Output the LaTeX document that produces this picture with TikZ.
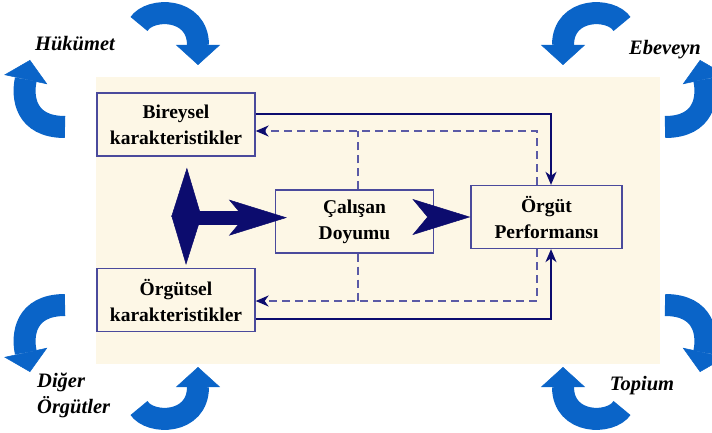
\documentclass[tikz,border=0pt]{standalone}
\usepackage{fontspec}
\setmainfont{Liberation Serif}
\usetikzlibrary{arrows.meta, positioning}

\definecolor{navy}{HTML}{0C0C6E}
\definecolor{frame}{HTML}{4A4A9C}
\definecolor{dashblue}{HTML}{5A5AA6}
\definecolor{cream}{HTML}{FDF7E6}
\definecolor{swirlblue}{HTML}{0A64C8}

\begin{document}
\begin{tikzpicture}[
        x=1pt, y=1pt,
        box/.style={draw=frame, line width=1.3pt, fill=cream, align=center,
            minimum width=158pt, minimum height=63pt, inner sep=2pt,
            font=\fontsize{19.5}{26}\selectfont\bfseries},
        tag/.style={font=\fontsize{20.5}{26}\selectfont\bfseries\itshape, inner sep=0pt},
        link/.style={draw=navy, line width=2pt, -{Stealth[length=13pt, width=11pt, inset=4pt]}},
        back/.style={draw=dashblue, line width=1.4pt, dash pattern=on 8pt off 5pt},
        backarrow/.style={back, -{Stealth[length=13pt, width=11pt, inset=4pt, color=navy]}},
        big/.style={draw=navy, line width=14pt, -{Stealth[length=58pt, width=36pt, inset=15pt, line width=0.5pt, color=navy]}},
        bluecurve/.style={draw=swirlblue, line width=22pt, -{Triangle[length=20pt, width=44pt, line width=0.5pt]}}
    ]

    \useasboundingbox (0,0) rectangle (712,432);

    %% ---- Background panel ----
    \fill[cream] (96,68) rectangle (660,355);

    %% ---- Boxes ----
    \node[box] (bir) at (176,307.5) {Bireysel\\karakteristikler};
    \node[box, below of=bir, node distance=175.5pt] (org) {Örgütsel\\karakteristikler};
    \node[box] (cal) at (354.5,210.5) {Çalışan\\Doyumu};
    \node[box, minimum width=151pt, right of=cal, node distance=192pt, yshift=4.5pt] (perf) {Örgüt\\Performansı};

    %% ---- Direct effects ----
    \draw[link] ([yshift=10.5pt]bir.east) -| ([xshift=4.5pt]perf.north);
    \draw[link] ([yshift=-19pt]org.east) -| ([xshift=4.5pt]perf.south);

    %% ---- Feedback (dashed) ----
    \coordinate (fbtop) at ([yshift=-6.5pt]bir.east);
    \coordinate (fbbot) at ([yshift=-1pt]org.east);
    \coordinate (cn) at ([xshift=3.5pt]cal.north);
    \coordinate (cs) at ([xshift=3.5pt]cal.south);
    \draw[backarrow] ([xshift=-9.5pt]perf.north) |- (fbtop);
    \draw[backarrow] ([xshift=-9.5pt]perf.south) |- (fbbot);
    \draw[back] (cn) -- (cn |- fbtop);
    \draw[back] (cs) -- (cs |- fbbot);

    %% ---- Big arrows ----
    \draw[navy, line width=1pt,
        {Stealth[length=49pt, width=30pt, inset=0pt, line width=0.5pt]}-{Stealth[length=49pt, width=30pt, inset=0pt, line width=0.5pt]},
        shorten <=11pt, shorten >=3pt] ([xshift=11pt]bir.south) -- ([xshift=10pt]org.north);
    \coordinate (hub) at ([xshift=11pt, yshift=-61pt]bir.south);
    \draw[big, shorten >=-12pt] (hub) -- (hub -| cal.west);
    \coordinate (q) at (perf.west -| cal.east);
    \draw[big, draw=cream, line width=0.1pt] ([xshift=-21pt]q) -- (perf.west);

    %% ---- Surrounding influences ----
    \node[tag] (huk) at (75,388) {Hükümet};
    \node[tag] (ebe) at (665,382) {Ebeveyn};
    \node[tag, align=left, anchor=west] (dig) at (37,37) {Diğer\\Örgütler};
    \node[tag] (top) at (642,46) {Topium};

    %% ---- Curved blue arrows ----
    \draw[bluecurve] (139,408) .. controls (150,425) and (198,425) .. (198,367);
    \draw[bluecurve] (65,305) .. controls (25,305) and (22,335) .. (30,372);
    \draw[bluecurve] (622,408) .. controls (611,425) and (563,425) .. (563,367);
    \draw[bluecurve] (665,305) .. controls (705,305) and (708,335) .. (700,372);
    \draw[bluecurve] (65,127) .. controls (25,127) and (22,97) .. (30,60);
    \draw[bluecurve] (139,24) .. controls (150,7) and (198,7) .. (198,65);
    \draw[bluecurve] (665,127) .. controls (705,127) and (708,97) .. (700,60);
    \draw[bluecurve] (622,24) .. controls (611,7) and (563,7) .. (563,65);

\end{tikzpicture}
\end{document}
